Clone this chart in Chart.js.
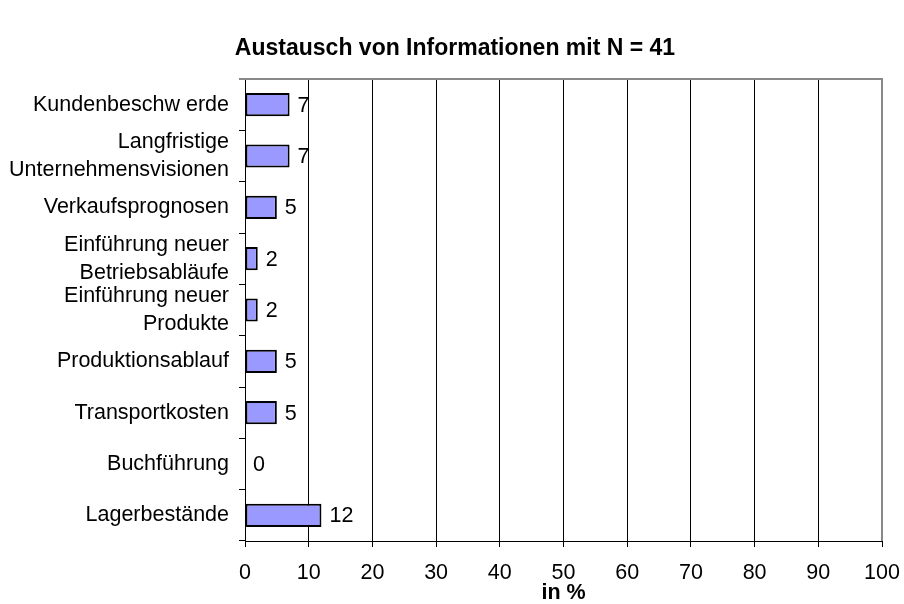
<!DOCTYPE html>
<html>
<head>
<meta charset="utf-8">
<script src="https://cdn.jsdelivr.net/npm/chart.js@4"></script>
<style>
  html, body { margin: 0; padding: 0; background: #fff; }
  #wrap { width: 904px; height: 604px; position: relative; }
</style>
</head>
<body>
<div id="wrap"><canvas id="c" width="904" height="604"></canvas></div>
<script>
const titleText = 'Austausch von Informationen mit N = 41';
const xAxisTitle = 'in %';
const categories = [
  'Kundenbeschw erde',
  ['Langfristige', 'Unternehmensvisionen'],
  'Verkaufsprognosen',
  ['Einführung neuer', 'Betriebsabläufe'],
  ['Einführung neuer', 'Produkte'],
  'Produktionsablauf',
  'Transportkosten',
  'Buchführung',
  'Lagerbestände'
];
const values = [7, 7, 5, 2, 2, 5, 5, 0, 12];
const xTicks = [0, 10, 20, 30, 40, 50, 60, 70, 80, 90, 100];

const FONT = "'Liberation Sans', Arial, sans-serif";
const FS = 21.5;

const valueLabels = {
  id: 'valueLabels',
  afterDatasetsDraw(chart) {
    const ctx = chart.ctx;
    const meta = chart.getDatasetMeta(0);
    ctx.save();
    ctx.font = FS + 'px ' + FONT;
    ctx.fillStyle = '#000';
    ctx.textAlign = 'left';
    ctx.textBaseline = 'middle';
    meta.data.forEach((bar, i) => {
      ctx.fillText(String(values[i]), bar.x + 8, bar.y + 1);
    });
    ctx.restore();
  }
};

const frame = {
  id: 'frame',
  beforeDatasetsDraw(chart) {
    const a = chart.chartArea;
    const ctx = chart.ctx;
    ctx.save();
    ctx.strokeStyle = '#888';
    ctx.lineWidth = 2;
    ctx.beginPath();
    ctx.moveTo(a.left - 6, a.top);
    ctx.lineTo(a.right, a.top);
    ctx.lineTo(a.right, a.bottom);
    ctx.stroke();
    ctx.restore();
  }
};

new Chart(document.getElementById('c'), {
  type: 'bar',
  data: {
    labels: categories,
    datasets: [{
      data: values,
      backgroundColor: '#9999FF',
      borderColor: '#000',
      borderWidth: 2,
      borderSkipped: false,
      barPercentage: 0.45,
      categoryPercentage: 1
    }]
  },
  options: {
    indexAxis: 'y',
    responsive: false,
    animation: false,
    devicePixelRatio: 1,
    layout: { padding: { left: 6, right: 0, top: 0, bottom: 0 } },
    plugins: {
      legend: { display: false },
      tooltip: { enabled: false },
      title: {
        display: true,
        text: titleText,
        color: '#000',
        font: { family: FONT, size: 23, weight: 'bold', lineHeight: 1.2 },
        padding: { top: 35, bottom: 16.4 }
      }
    },
    scales: {
      x: {
        min: 0, max: 100,
        afterFit(s) { s.height = 63; s.paddingRight = 22; s.paddingLeft = 0; },
        afterBuildTicks(s) { s.ticks = xTicks.map(v => ({ value: v })); },
        ticks: { color: '#000', font: { family: FONT, size: FS }, padding: 13, maxRotation: 0, autoSkip: false },
        grid: { color: '#000', lineWidth: 1, tickLength: 6, drawOnChartArea: true },
        border: { color: '#000', width: 1 },
        title: { display: true, text: xAxisTitle, color: '#000', font: { family: FONT, size: FS, weight: 'bold', lineHeight: 1.0 }, padding: 0 }
      },
      y: {
        afterFit(s) { s.width = 239; },
        ticks: { color: '#000', font: { family: FONT, size: FS, lineHeight: 1.3 }, padding: 10, autoSkip: false },
        grid: { offset: true, drawOnChartArea: false, color: '#000', tickLength: 6 },
        border: { color: '#000', width: 1 }
      }
    }
  },
  plugins: [valueLabels, frame]
});
</script>
</body>
</html>
